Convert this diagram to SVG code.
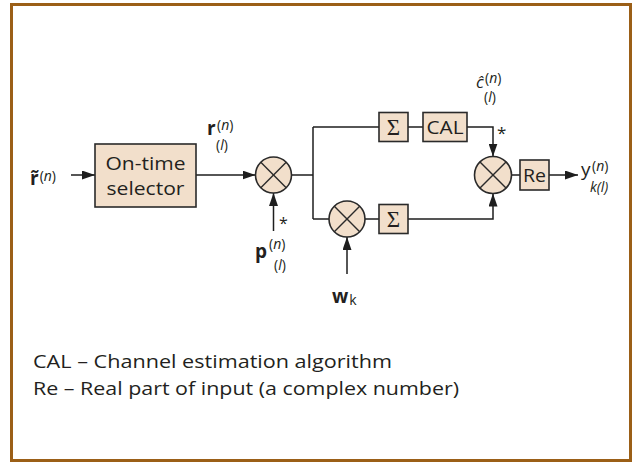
<svg xmlns="http://www.w3.org/2000/svg" width="636" height="464" viewBox="0 0 636 464">
<style>
.frame{fill:#fff;stroke:#9b5f17;stroke-width:3}
.box{fill:#f2dfcb;stroke:#2a2a2a;stroke-width:1.6}
.wire{fill:none;stroke:#1e1e1e;stroke-width:1.5}
.xm{stroke:#2a2a2a;stroke-width:1.4}
.t{font-family:"Open Sans","Liberation Sans",sans-serif;fill:#231f20}
.big{font-size:19px}
.lab{font-size:19px;font-weight:bold}
.sup{font-size:14px}
.it{font-style:italic}
.sig{font-family:"Liberation Serif","DejaVu Serif",serif;font-size:23px;fill:#231f20}
.leg{font-size:18.5px}
</style>
<defs>
<marker id="ah" markerUnits="userSpaceOnUse" markerWidth="13" markerHeight="9" refX="13" refY="4.5" orient="auto">
<path d="M0,0 L13,4.5 L0,9 z" fill="#1e1e1e"/>
</marker>
</defs>
<rect class="frame" x="11.5" y="4.5" width="619" height="456"/>

<g id="connectors">
<path class="wire" d="M71,175 H95" marker-end="url(#ah)"/>
<path class="wire" d="M196,175 H255.5" marker-end="url(#ah)"/>
<path class="wire" d="M273.5,231 V193" marker-end="url(#ah)"/>
<path class="wire" d="M291.5,175 H313"/>
<path class="wire" d="M313,127 V219"/>
<path class="wire" d="M313,127 H379"/>
<path class="wire" d="M408,127 H423"/>
<path class="wire" d="M467,127 H493 V156.5" marker-end="url(#ah)"/>
<path class="wire" d="M313,219 H329"/>
<path class="wire" d="M365,219 H379"/>
<path class="wire" d="M408,219 H493 V193.5" marker-end="url(#ah)"/>
<path class="wire" d="M347,274 V237" marker-end="url(#ah)"/>
<path class="wire" d="M511.5,175 H520"/>
<path class="wire" d="M549,175 H578" marker-end="url(#ah)"/>
</g>

<g id="selector">
<rect class="box" x="95" y="144" width="101" height="63"/>
<text class="t big" x="145.5" y="170" text-anchor="middle" textLength="80" lengthAdjust="spacingAndGlyphs">On-time</text>
<text class="t big" x="145.5" y="195" text-anchor="middle" textLength="78" lengthAdjust="spacingAndGlyphs">selector</text>
</g>

<g id="mult1">
<circle class="box" cx="273.5" cy="175" r="18"/>
<line class="xm" x1="260.8" y1="162.3" x2="286.2" y2="187.7"/>
<line class="xm" x1="260.8" y1="187.7" x2="286.2" y2="162.3"/>
</g>

<g id="sum1">
<rect class="box" x="379" y="112.5" width="29" height="29"/>
<text class="sig" x="393.5" y="135" text-anchor="middle">Σ</text>
</g>

<g id="cal">
<rect class="box" x="423" y="112.5" width="44" height="29"/>
<text class="t big" x="445" y="134" text-anchor="middle" textLength="37" lengthAdjust="spacingAndGlyphs">CAL</text>
</g>

<g id="mult3">
<circle class="box" cx="347" cy="219" r="18"/>
<line class="xm" x1="334.3" y1="206.3" x2="359.7" y2="231.7"/>
<line class="xm" x1="334.3" y1="231.7" x2="359.7" y2="206.3"/>
</g>

<g id="sum2">
<rect class="box" x="379" y="204.5" width="29" height="29"/>
<text class="sig" x="393.5" y="227" text-anchor="middle">Σ</text>
</g>

<g id="mult2">
<circle class="box" cx="493" cy="175" r="18.5"/>
<line class="xm" x1="480" y1="162" x2="506" y2="188"/>
<line class="xm" x1="480" y1="188" x2="506" y2="162"/>
</g>

<g id="re">
<rect class="box" x="520" y="160" width="29" height="30"/>
<text class="t big" x="534.5" y="182" text-anchor="middle" textLength="23" lengthAdjust="spacingAndGlyphs">Re</text>
</g>

<g id="labels">
<text class="t" x="30" y="185"><tspan class="lab">r̃</tspan><tspan class="sup" dx="1" dy="-4">(<tspan class="it">n</tspan>)</tspan></text>

<text class="t lab" x="207" y="135">r</text>
<text class="t sup" x="217" y="130">(<tspan class="it">n</tspan>)</text>
<text class="t sup" x="216" y="150">(<tspan class="it">l</tspan>)</text>

<text class="t" x="279" y="229" style="font-size:16px">*</text>
<text class="t lab" x="255" y="258">p</text>
<text class="t sup" x="269" y="249">(<tspan class="it">n</tspan>)</text>
<text class="t sup" x="274" y="270">(<tspan class="it">l</tspan>)</text>

<text class="t" x="332" y="303"><tspan class="lab">w</tspan><tspan class="sup" dx="1" dy="2">k</tspan></text>

<text class="t it" x="476" y="88" style="font-size:17px">ĉ</text>
<text class="t sup" x="485" y="83">(<tspan class="it">n</tspan>)</text>
<text class="t sup" x="484" y="102">(<tspan class="it">l</tspan>)</text>
<text class="t" x="497" y="139" style="font-size:17px">*</text>

<text class="t big" x="581" y="176">y</text>
<text class="t sup" x="592" y="171">(<tspan class="it">n</tspan>)</text>
<text class="t sup it" x="590" y="192">k(l)</text>
</g>

<g id="legend">
<text class="t leg" x="33" y="368" textLength="359" lengthAdjust="spacingAndGlyphs">CAL – Channel estimation algorithm</text>
<text class="t leg" x="33" y="395" textLength="426" lengthAdjust="spacingAndGlyphs">Re – Real part of input (a complex number)</text>
</g>
</svg>
